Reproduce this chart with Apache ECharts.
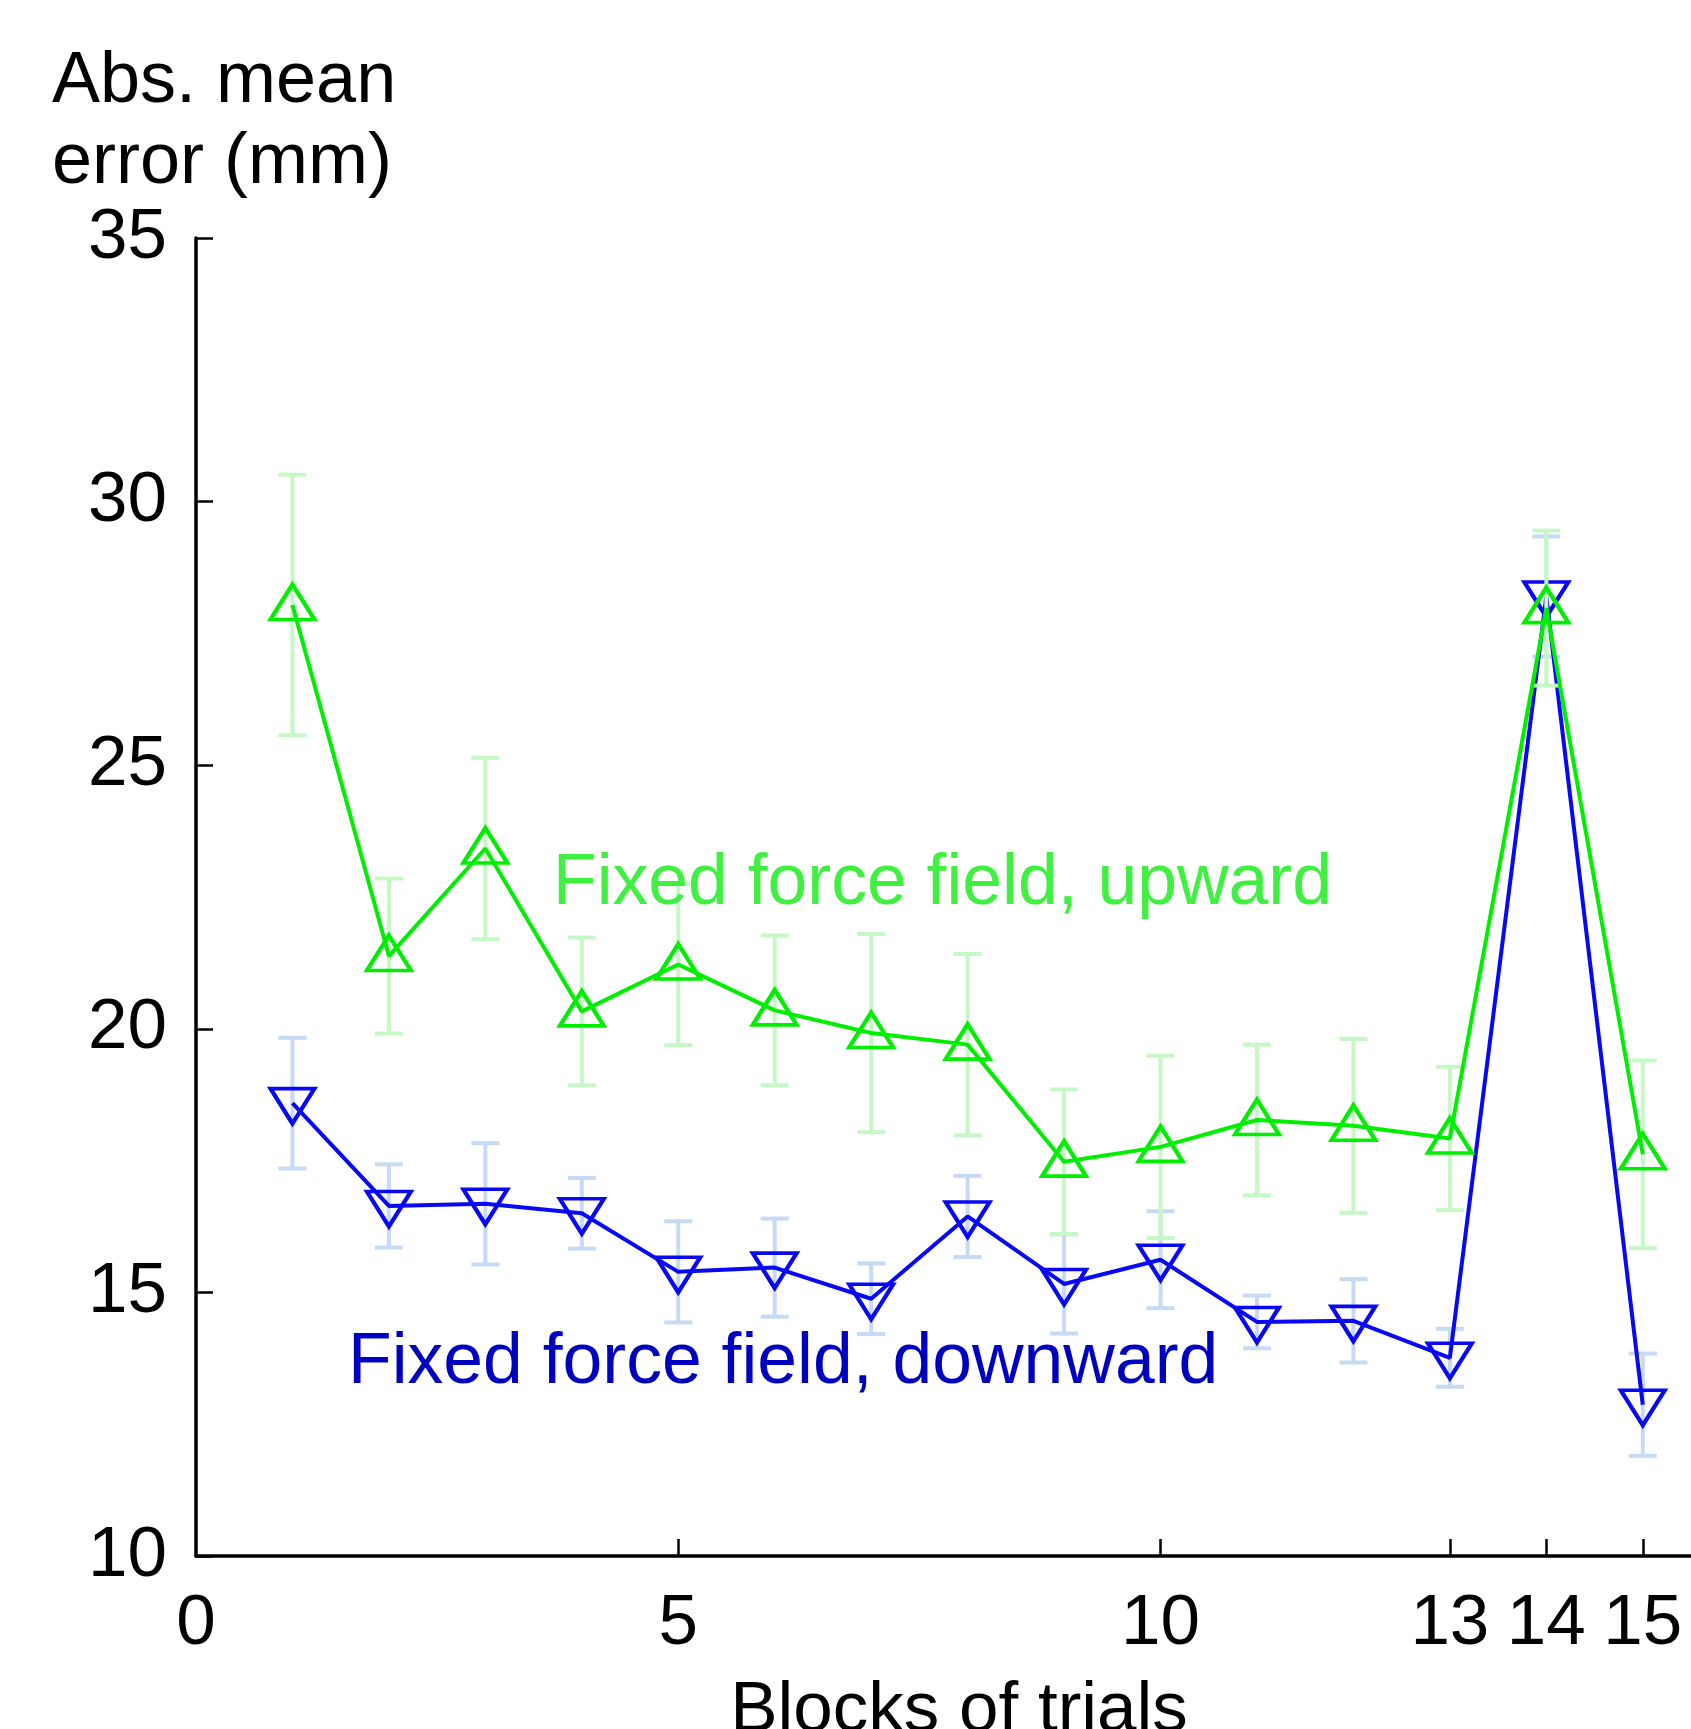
<!DOCTYPE html>
<html>
<head>
<meta charset="utf-8">
<script src="https://cdn.jsdelivr.net/npm/echarts@6/dist/echarts.min.js"></script>
<style>
html,body{margin:0;padding:0;background:#fff;}
#chart{width:1691px;height:1729px;}
</style>
</head>
<body>
<div id="chart"></div>
<script>
// ---- Data ----
const blocks = [1,2,3,4,5,6,7,8,9,10,11,12,13,14,15];
const upwardMean = [28.04,21.38,23.42,20.33,21.22,20.35,19.92,19.70,17.48,17.76,18.27,18.16,17.92,27.98,17.62];
const upwardErr  = [2.47,1.47,1.72,1.40,1.53,1.42,1.88,1.72,1.37,1.73,1.43,1.65,1.36,1.47,1.78];
const downwardMean = [18.59,16.64,16.68,16.50,15.39,15.47,14.88,16.44,15.16,15.62,14.44,14.46,13.76,28.20,12.87];
const downwardErr  = [1.24,0.79,1.15,0.67,0.96,0.93,0.67,0.77,0.94,0.92,0.50,0.79,0.55,1.14,0.97];
const xTickValues = [5,10,13,14,15];
const xLabelValues = [0,5,10,13,14,15];
const yTicks = [10,15,20,25,30,35];
const yTitleLines = ['Abs. mean','error (mm)'];
const xTitle = 'Blocks of trials';
const upwardName = 'Fixed force field, upward';
const downwardName = 'Fixed force field, downward';

const FONT = '"Liberation Sans", Arial, Helvetica, sans-serif';
const C_UP = '#00ee00', C_UP_ERR = '#c6f8c6', C_UP_TXT = '#40f040';
const C_DN = '#0808f4', C_DN_ERR = '#c6daf4', C_DN_TXT = '#0000c0';

function pairs(m){ return blocks.map((b,i)=>[b,m[i]]); }
function errData(m,e){ return blocks.map((b,i)=>[b,m[i],e[i]]); }

function errRender(color){
  return function(params, api){
    const x = api.value(0), m = api.value(1), e = api.value(2);
    const top = api.coord([x, m+e]);
    const bot = api.coord([x, m-e]);
    const hw = 14;
    const style = {stroke: color, lineWidth: 4};
    return {type:'group', children:[
      {type:'line', shape:{x1:top[0],y1:top[1],x2:bot[0],y2:bot[1]}, style},
      {type:'line', shape:{x1:top[0]-hw,y1:top[1],x2:top[0]+hw,y2:top[1]}, style},
      {type:'line', shape:{x1:bot[0]-hw,y1:bot[1],x2:bot[0]+hw,y2:bot[1]}, style}
    ]};
  };
}

const chart = echarts.init(document.getElementById('chart'), null, {renderer:'canvas'});
const option = {
  backgroundColor:'#ffffff',
  animation:false,
  grid:{left:196, top:238, width:1495, height:1318, containLabel:false, outerBoundsMode:'none'},
  xAxis:{
    type:'value', min:0, max:15.5,
    axisLine:{show:true, onZero:false, lineStyle:{color:'#000', width:3.5}},
    axisTick:{show:true, inside:true, length:17, lineStyle:{color:'#000', width:2.5}, customValues:xTickValues},
    axisLabel:{show:true, fontSize:71, fontFamily:FONT, color:'#000', margin:33, lineHeight:71, customValues:xLabelValues},
    splitLine:{show:false}
  },
  yAxis:{
    type:'value', min:10, max:35, interval:5,
    axisLine:{show:true, lineStyle:{color:'#000', width:3.5}},
    axisTick:{show:true, inside:true, length:17, lineStyle:{color:'#000', width:2.5}, customValues:yTicks},
    axisLabel:{show:true, fontSize:71, fontFamily:FONT, color:'#000', margin:29, lineHeight:71, customValues:yTicks},
    splitLine:{show:false}
  },
  series:[
    {type:'custom', name:'down err', renderItem:errRender(C_DN_ERR), data:errData(downwardMean,downwardErr), z:1, silent:true},
    {type:'line', name:downwardName, data:pairs(downwardMean), z:2,
      lineStyle:{color:C_DN, width:4},
      symbol:'triangle', symbolRotate:180, symbolSize:[44,35], symbolOffset:[0,3], showAllSymbol:true,
      itemStyle:{color:'rgba(0,0,0,0)', borderColor:C_DN, borderWidth:4}},
    {type:'custom', name:'up err', renderItem:errRender(C_UP_ERR), data:errData(upwardMean,upwardErr), z:3, silent:true},
    {type:'line', name:upwardName, data:pairs(upwardMean), z:4,
      lineStyle:{color:C_UP, width:4},
      symbol:'triangle', symbolSize:[44,35], symbolOffset:[0,-3], showAllSymbol:true,
      itemStyle:{color:'rgba(0,0,0,0)', borderColor:C_UP, borderWidth:4}}
  ],
  graphic:[
    {type:'text', left:52, top:46, style:{text:yTitleLines[0], font:'72px '+FONT, fill:'#000', lineHeight:72}},
    {type:'text', left:52, top:127, style:{text:yTitleLines[1], font:'72px '+FONT, fill:'#000', lineHeight:72}},
    {type:'text', left:553, top:848, style:{text:upwardName, font:'71.5px '+FONT, fill:C_UP_TXT, lineHeight:72}, z:10},
    {type:'text', left:348, top:1327, style:{text:downwardName, font:'71.5px '+FONT, fill:C_DN_TXT, lineHeight:72}, z:10},
    {type:'text', x:959, y:1676, style:{text:xTitle, font:'71px '+FONT, fill:'#000', align:'center', verticalAlign:'top', lineHeight:71}}
  ]
};
chart.setOption(option);
</script>
</body>
</html>
